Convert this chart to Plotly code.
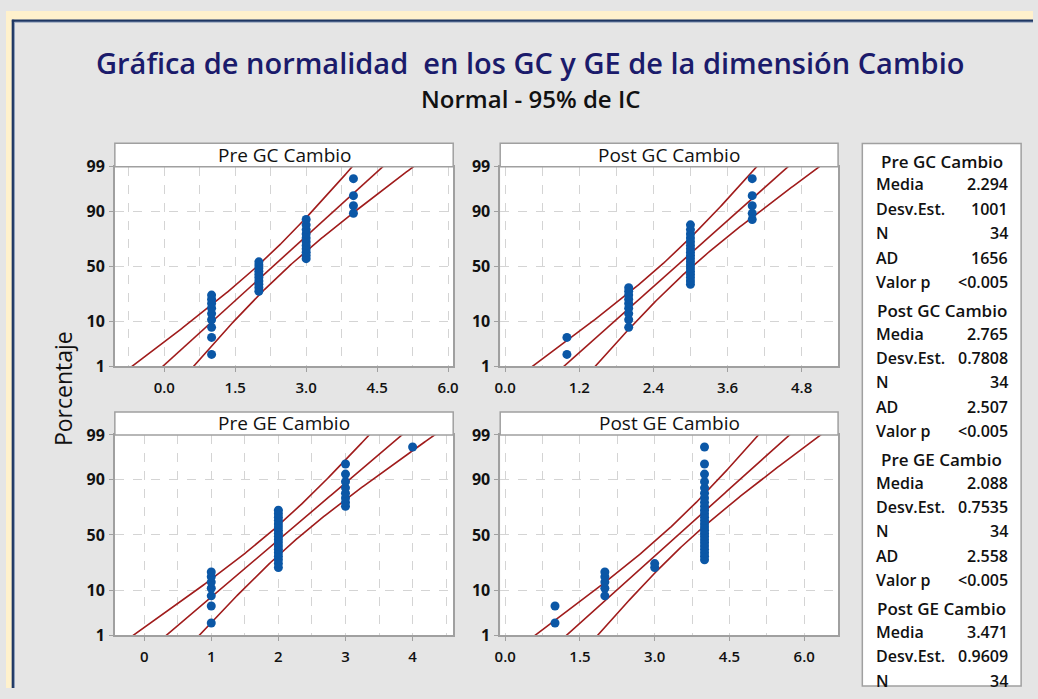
import numpy as np
import plotly.graph_objects as go
from statistics import NormalDist

W, H = 1038, 699

# ---------------- data ----------------
panel_titles = ["Pre GC Cambio", "Post GC Cambio", "Pre GE Cambio", "Post GE Cambio"]
score_levels = [1, 2, 3, 4]
pre_gc_counts = [9, 10, 11, 4]
post_gc_counts = [2, 9, 18, 5]
pre_ge_counts = [7, 18, 8, 1]
post_ge_counts = [2, 5, 2, 25]
panel_counts = [pre_gc_counts, post_gc_counts, pre_ge_counts, post_ge_counts]

means = [2.294, 2.765, 2.088, 3.471]
std_devs = [1.001, 0.7808, 0.7535, 0.9609]

pct_ticks = [1, 10, 50, 90, 99]

stat_labels = ["Media", "Desv.Est.", "N", "AD", "Valor p"]
pre_gc_stats = ["2.294", "1001", "34", "1656", "<0.005"]
post_gc_stats = ["2.765", "0.7808", "34", "2.507", "<0.005"]
pre_ge_stats = ["2.088", "0.7535", "34", "2.558", "<0.005"]
post_ge_stats = ["3.471", "0.9609", "34"]
panel_stats = [pre_gc_stats, post_gc_stats, pre_ge_stats, post_ge_stats]

x_ranges = [[-1.046, 6.11], [-0.08, 5.39], [-0.437, 4.605], [-0.1, 6.68]]
x_dticks = [1.5, 1.2, 1.0, 1.5]
x_formats = [".1f", ".1f", "d", ".1f"]

# ---------------- layout geometry (pixels) ----------------
panel_px = [  # x0, x1, header_top, plot_top, plot_bottom
    (110, 452, 136.5, 160.7, 367),
    (499.5, 841, 136.5, 160.7, 367),
    (110, 452, 414, 437.7, 644.3),
    (499.5, 841, 414, 437.7, 644.3),
]

def px(x):
    return x / W

def py(y):
    return 1 - y / H

nd = NormalDist()
ZMAX = nd.inv_cdf(0.99)

LINE_C = "#A01C1C"
DOT_C = "#0B57A6"
AX_C = "#A0A0A0"
GRID_C = "#D4D4D4"
FONT = "Open Sans"

fig = go.Figure()
shapes = []
annotations = []

for k in range(4):
    vals = np.repeat(score_levels, panel_counts[k])
    n = len(vals)
    ranks = np.arange(1, n + 1)
    probs = (ranks - 0.3) / (n + 0.4)
    zs = np.array([nd.inv_cdf(p) for p in probs])

    mu, sd = means[k], std_devs[k]
    zl = np.linspace(-2.6, 2.6, 200)
    center = mu + sd * zl
    half = 1.96 * sd * np.sqrt(1 / n + zl ** 2 / (2 * n))

    xa = "x" if k == 0 else f"x{k+1}"
    ya = "y" if k == 0 else f"y{k+1}"
    for xs in (center - half, center, center + half):
        fig.add_trace(go.Scatter(x=xs, y=zl, mode="lines", xaxis=xa, yaxis=ya,
                                 line=dict(color=LINE_C, width=1.6), hoverinfo="skip"))
    fig.add_trace(go.Scatter(x=np.sort(vals), y=zs, mode="markers", xaxis=xa, yaxis=ya,
                             marker=dict(color=DOT_C, size=9), cliponaxis=False))

    x0, x1, ht, pt, pb = panel_px[k]
    sfx = "" if k == 0 else str(k + 1)
    fig.layout["xaxis" + sfx] = dict(
        domain=[px(x0), px(x1)], anchor=ya, range=x_ranges[k],
        tick0=0, dtick=x_dticks[k], tickformat=x_formats[k],
        showgrid=True, gridcolor=GRID_C, griddash="dash", gridwidth=1,
        minor=dict(dtick=x_dticks[k] / 2, tick0=0, showgrid=True, gridcolor=GRID_C,
                   griddash="dash", gridwidth=1, ticks=""),
        zeroline=False, showline=True, mirror=True, linecolor=AX_C, linewidth=1.5,
        ticks="outside", ticklen=4, tickcolor=AX_C, ticklabelstandoff=3,
        tickfont=dict(family=FONT, size=15, color="#111111", weight=600),
    )
    fig.layout["yaxis" + sfx] = dict(
        domain=[py(pb), py(pt)], anchor=xa, range=[-ZMAX, ZMAX],
        tickvals=[nd.inv_cdf(p / 100) for p in pct_ticks],
        ticktext=[str(p) for p in pct_ticks],
        showgrid=True, gridcolor=GRID_C, griddash="dash", gridwidth=1,
        zeroline=False, showline=True, mirror=True, linecolor=AX_C, linewidth=1.5,
        ticks="outside", ticklen=4, tickcolor=AX_C, ticklabelstandoff=1,
        tickfont=dict(family=FONT, size=16, color="#111111", weight=700),
    )
    # header box
    shapes.append(dict(type="rect", xref="paper", yref="paper",
                       x0=px(x0), x1=px(x1), y0=py(pt), y1=py(ht),
                       fillcolor="white", line=dict(color=AX_C, width=1.5)))
    annotations.append(dict(xref="paper", yref="paper", x=px((x0 + x1) / 2), y=py((ht + pt) / 2),
                            text=panel_titles[k], showarrow=False,
                            font=dict(family=FONT, size=19, color="#111111"),
                            xanchor="center", yanchor="middle"))

# outer frame: cream strip + navy border
CREAM = "#FFF1CC"
shapes.append(dict(type="rect", xref="paper", yref="paper", x0=0, x1=1, y0=py(9), y1=1,
                   fillcolor=CREAM, line=dict(width=0), layer="below"))
shapes.append(dict(type="rect", xref="paper", yref="paper", x0=0, x1=px(6), y0=0, y1=1,
                   fillcolor=CREAM, line=dict(width=0), layer="below"))
shapes.append(dict(type="line", xref="paper", yref="paper", x0=px(6), x1=1, y0=py(10), y1=py(10),
                   line=dict(color="#1F3763", width=2.5)))
shapes.append(dict(type="line", xref="paper", yref="paper", x0=px(7), x1=px(7), y0=0, y1=py(9),
                   line=dict(color="#1F3763", width=2.5)))
shapes.append(dict(type="line", xref="paper", yref="paper", x0=px(8.5), x1=1, y0=py(11.5), y1=py(11.5),
                   line=dict(color="#8A9BB8", width=1)))
shapes.append(dict(type="line", xref="paper", yref="paper", x0=px(8.5), x1=px(8.5), y0=0, y1=py(11.5),
                   line=dict(color="#8A9BB8", width=1)))

# stats box
shapes.append(dict(type="rect", xref="paper", yref="paper", x0=px(865.5), x1=px(1026), y0=py(697),
                   y1=py(136.7), fillcolor="white", line=dict(color=AX_C, width=1.5)))
for k in range(4):
    hy = 155 + 154 * k
    annotations.append(dict(xref="paper", yref="paper", x=px(946), y=py(hy), text=panel_titles[k],
                            showarrow=False, xanchor="center", yanchor="middle",
                            font=dict(family=FONT, size=17, color="#111111", weight=600)))
    for j, v in enumerate(panel_stats[k]):
        ry = hy + 24 + 25.2 * j
        annotations.append(dict(xref="paper", yref="paper", x=px(877), y=py(ry), text=stat_labels[j],
                                showarrow=False, xanchor="left", yanchor="middle",
                                font=dict(family=FONT, size=16, color="#111111", weight=600)))
        annotations.append(dict(xref="paper", yref="paper", x=px(1015), y=py(ry), text=v,
                                showarrow=False, xanchor="right", yanchor="middle",
                                font=dict(family=FONT, size=16, color="#111111", weight=600)))

# titles
annotations.append(dict(xref="paper", yref="paper", x=px(530), y=py(53),
                        text="Gráfica de normalidad  en los GC y GE de la dimensión Cambio",
                        showarrow=False, xanchor="center", yanchor="middle",
                        font=dict(family=FONT, size=29, color="#1B1B6B", weight=600)))
annotations.append(dict(xref="paper", yref="paper", x=px(530), y=py(90),
                        text="Normal - 95% de IC", showarrow=False, xanchor="center", yanchor="middle",
                        font=dict(family=FONT, size=24, color="#111111", weight=600)))
annotations.append(dict(xref="paper", yref="paper", x=px(57), y=py(390), text="Porcentaje",
                        showarrow=False, textangle=-90, xanchor="center", yanchor="middle",
                        font=dict(family=FONT, size=23, color="#111111")))

fig.update_layout(width=W, height=H, margin=dict(l=0, r=0, t=0, b=0),
                  paper_bgcolor="#E5E5E5", plot_bgcolor="white", showlegend=False,
                  shapes=shapes, annotations=annotations)

fig.write_html("out.html", config={"displayModeBar": False},
               post_script="document.body.style.margin='0';document.body.style.overflow='hidden';")
